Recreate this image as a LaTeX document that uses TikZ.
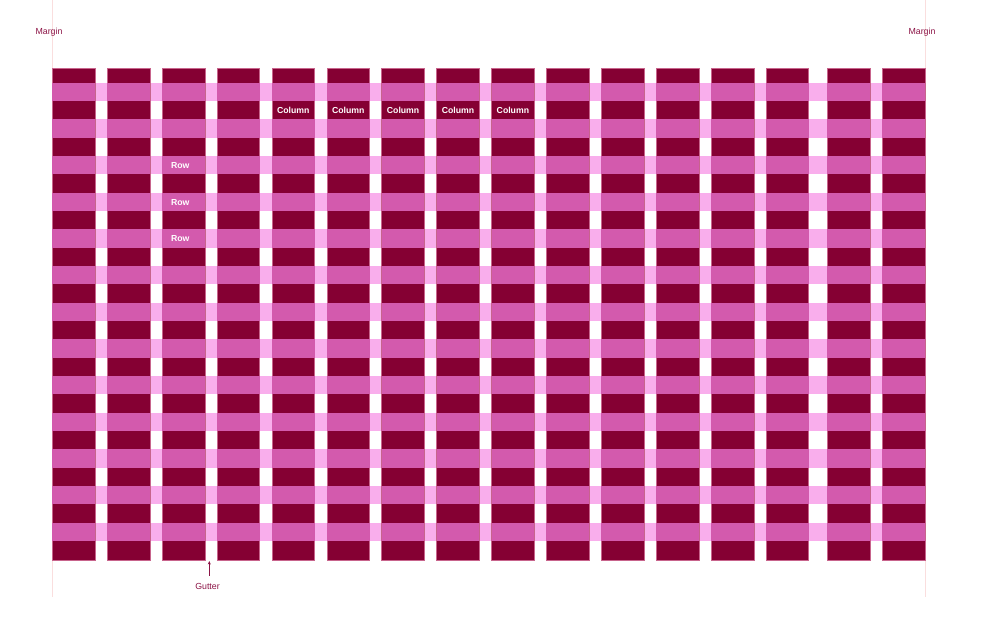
\documentclass[tikz,border=0pt]{standalone}
\usepackage{fontspec}
\setmainfont{Liberation Sans}
\usetikzlibrary{arrows.meta}
\definecolor{darkc}{RGB}{133,0,51}
\definecolor{midc}{RGB}{211,90,173}
\definecolor{lightc}{RGB}{249,174,236}
\definecolor{marginc}{RGB}{250,222,222}
\definecolor{labelc}{RGB}{140,20,70}
\definecolor{edgec}{RGB}{200,100,140}
\tikzset{
  colbox/.style={fill=darkc,draw=edgec,line width=0.5pt},
  bandbox/.style={fill=lightc},
  midbox/.style={fill=midc},
  marginline/.style={draw=marginc,line width=0.8pt},
  annot/.style={text=labelc,font=\fontsize{8.8}{10}\selectfont,inner sep=0pt},
  inlabel/.style={text=white,font=\bfseries\fontsize{8.7}{10}\selectfont,inner sep=0pt},
}
\begin{document}
\begin{tikzpicture}[x=1pt,y=-1pt]
\useasboundingbox (0,0) rectangle (981,629);
% margin lines
\draw[marginline] (52,0) -- (52,597);
\draw[marginline] (925,0) -- (925,597);
% light pink bands
\foreach \k in {0,...,12}{
  \fill[bandbox] (52,{82.7+36.67*\k}) rectangle (925,{101+36.67*\k});
}
% columns
\foreach \x in {52.3,107.2,162.1,217.0,271.9,326.8,381.7,436.6,491.5,546.4,601.3,656.2,711.1,766.0,827.3,882.4}{
  \draw[colbox] (\x,68) rectangle ({\x+42.7},560.3);
  \foreach \k in {0,...,12}{
    \fill[midbox] (\x,{82.7+36.67*\k}) rectangle ({\x+42.7},{101+36.67*\k});
  }
}
% column labels
\foreach \x/\n in {271.9/c1,326.8/c2,381.7/c3,436.6/c4,491.5/c5}{
  \node[inlabel] (\n) at ({\x+21.4},110) {Column};
}
% row labels
\node[inlabel] (r1) at (180.3,165.4) {Row};
\node[inlabel] (r2) at (180.3,202.1) {Row};
\node[inlabel] (r3) at (180.3,238.7) {Row};
% margin labels
\node[annot] (ml) at (49,32) {Margin};
\node[annot] (mr) at (922,32) {Margin};
% gutter
\node[annot] (gut) at (207.5,586.5) {Gutter};
\coordinate (gtip) at (209.3,561);
\draw[labelc,line width=0.6pt,-{Stealth[length=3.5pt,width=3pt]}] (209.3,575.5) -- (gtip);
\end{tikzpicture}
\end{document}
